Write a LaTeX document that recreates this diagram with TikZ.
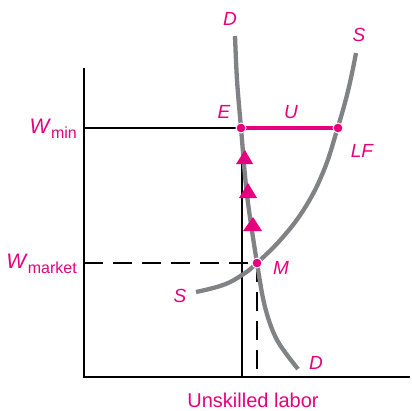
\documentclass[tikz,border=0pt]{standalone}
\usepackage{fontspec}
\setmainfont{Liberation Sans}
\definecolor{mag}{HTML}{E6007E}
\definecolor{curvegray}{HTML}{808285}
\begin{document}
\begin{tikzpicture}[x=1pt,y=-1pt,
  axis/.style={line width=1.6pt,black},
  curve/.style={line width=4.3pt,curvegray},
  lbl/.style={mag,font=\fontsize{19}{19}\selectfont\itshape,inner sep=0pt},
  wlbl/.style={mag,font=\fontsize{21}{21}\selectfont,inner sep=0pt,anchor=east},
  dot/.style={circle,fill=mag,draw=white,line width=1pt,minimum size=10pt,inner sep=0pt},
  tri/.style={fill=mag},
  dashline/.style={axis,dash pattern=on 19pt off 10pt}]
\useasboundingbox (0,0) rectangle (412,410);
% axes
\coordinate (O) at (84,377);
\coordinate (Ytop) at (84,68);
\coordinate (Xend) at (410,377);
\draw[axis] (Ytop) -- (O) -- (Xend);
% key points
\coordinate (E) at (241,128);
\coordinate (LF) at (338,128);
\coordinate (M) at (257,263);
\coordinate (Wmin) at (84,128);
\coordinate (Wmk) at (84,263);
\coordinate (Etop) at (242,128);
\coordinate (Ebase) at (242,377);
\coordinate (Mbase) at (257,377);
% guide lines
\draw[axis] (Wmin) -- (E);
\draw[axis] (Etop) -- (Ebase);
\draw[dashline] (Wmk) -- (M);
\draw[dashline] (M) -- (Mbase);
% curves
\draw[curve] plot[smooth,tension=0.55] coordinates {(235,36) (237,80) (241,128) (247,195) (257,263) (265,307) (277,340) (298,369)};
\draw[curve] plot[smooth,tension=0.7] coordinates {(196,292) (223,285) (242,275) (257,263) (283,237) (306,206) (324,170) (337,130) (348,91) (356,53)};
% U segment
\draw[mag,line width=4.3pt] (E) -- (LF);
% arrows
\fill[tri] (245,150) -- (236,164) -- (253,164) -- cycle;
\fill[tri] (248,183) -- (239,198) -- (257,198) -- cycle;
\fill[tri] (253,217) -- (243,231) -- (262,231) -- cycle;
% dots
\node[dot] (Edot) at (E) {};
\node[dot] (LFdot) at (LF) {};
\node[dot] (Mdot) at (M) {};
% labels
\node[lbl] (Dtop) at (230,19) {D};
\node[lbl] (Dbot) at (316,363) {D};
\node[lbl] (Stop) at (359,35) {S};
\node[lbl] (Sbot) at (180,296) {S};
\node[lbl] (Elbl) at (224,112) {E};
\node[lbl] (Ulbl) at (291,112) {U};
\node[lbl] (LFlbl) at (362,151) {LF};
\node[lbl] (Mlbl) at (281,268) {M};
\node[wlbl] (Wminlbl) at (77,129) {\textit{W}\raisebox{-0.45ex}{\fontsize{16}{16}\selectfont min}};
\node[wlbl] (Wmklbl) at (77,264) {\textit{W}\raisebox{-0.45ex}{\fontsize{16}{16}\selectfont market}};
\node[mag,font=\fontsize{20}{20}\selectfont,inner sep=0pt] (xl) at (253,400) {Unskilled labor};
\end{tikzpicture}
\end{document}
